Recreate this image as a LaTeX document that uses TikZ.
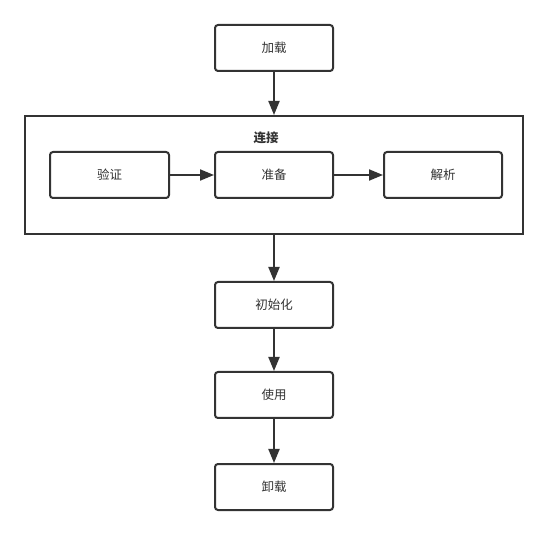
\documentclass[tikz,border=0pt]{standalone}
\usepackage{fontspec}
\setmainfont{Noto Sans CJK SC}
\usetikzlibrary{positioning, arrows.meta}

\definecolor{linegray}{HTML}{333333}
\definecolor{textgray}{HTML}{333333}

\begin{document}
\begin{tikzpicture}[x=1pt,y=-1pt,
    stagebox/.style={draw=linegray, line width=2pt, rounded corners=3pt, fill=white,
      minimum width=118pt, minimum height=46pt, inner sep=0pt,
      font=\fontsize{12.5}{15}\selectfont, text=textgray},
    groupbox/.style={draw=linegray, line width=2pt, minimum width=498pt, minimum height=118pt, inner sep=0pt},
    flow/.style={draw=linegray, line width=2pt, -{Triangle[length=14pt,width=11pt]}}]

      \useasboundingbox (0,0) rectangle (549,534);

      % Stages
      \node[stagebox] (load) at (274,48) {加载};
      \node[groupbox] (link) at (274,175) {};
      \node[font=\fontsize{12.5}{15}\selectfont\bfseries, text=textgray] (linklabel) at (266,138) {连接};
      \node[stagebox, minimum width=119pt] (verify) at (109.5,175) {验证};
      \node[stagebox] (prepare) at (274,175) {准备};
      \node[stagebox] (resolve) at (443,175) {解析};
      \node[stagebox] (init) at (274,305) {初始化};
      \node[stagebox] (use) at (274,395) {使用};
      \node[stagebox] (unload) at (274,487) {卸载};

      % Arrows
      \draw[flow] (load) -- (link);
      \draw[flow] (verify) -- (prepare);
      \draw[flow] (prepare) -- (resolve);
      \draw[flow] (link) -- (init);
      \draw[flow] (init) -- (use);
      \draw[flow] (use) -- (unload);
\end{tikzpicture}
\end{document}
